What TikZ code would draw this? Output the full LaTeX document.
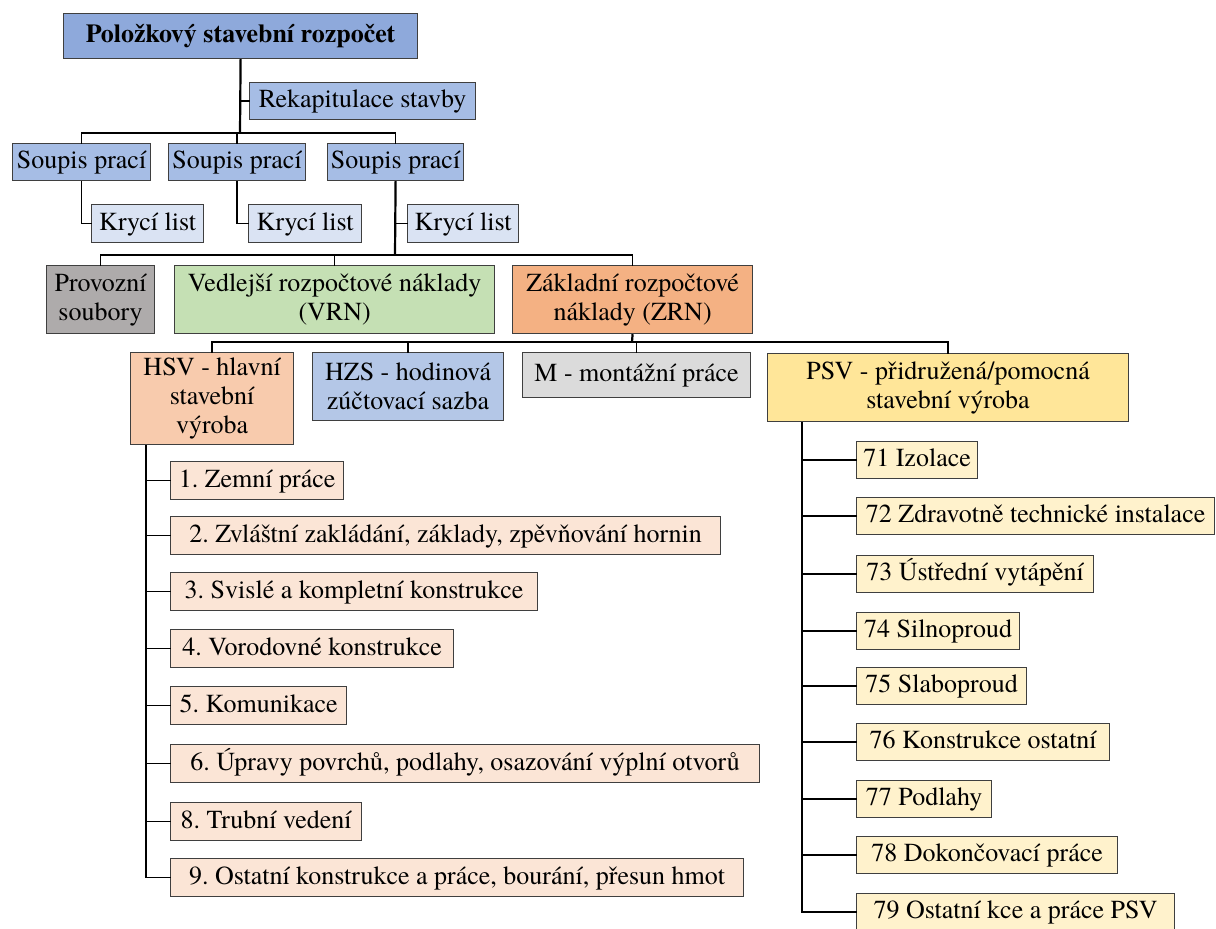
\documentclass[tikz,border=0pt]{standalone}
\usepackage{fontspec}
\setmainfont{TeX Gyre Termes}
\frenchspacing
\newcommand\dfont{\fontsize{26}{29}\selectfont}
\definecolor{boxline}{HTML}{3F3F3F}
\definecolor{cRoot}{HTML}{8EA9DB}
\definecolor{cBlue}{HTML}{A6BDE5}
\definecolor{cPale}{HTML}{DAE3F3}
\definecolor{cGray}{HTML}{AEABAB}
\definecolor{cGreen}{HTML}{C5E0B4}
\definecolor{cOrange}{HTML}{F4B183}
\definecolor{cPeach}{HTML}{F8CBAD}
\definecolor{cPeachLt}{HTML}{FBE5D6}
\definecolor{cHzs}{HTML}{B4C7E7}
\definecolor{cLtGray}{HTML}{DBDBDB}
\definecolor{cYellow}{HTML}{FFE699}
\definecolor{cYellowLt}{HTML}{FFF2CC}
\tikzset{
  onebox/.style={draw=boxline, line width=1.2pt, inner sep=0pt, anchor=north west,
    font=\dfont, text height=19pt, text depth=6pt},
  multibox/.style={draw=boxline, line width=1.2pt, inner sep=0pt, anchor=north west,
    font=\dfont, align=center},
  link/.style={line width=1.3pt, line cap=rect},
  trunk/.style={line width=2.2pt},
}
\begin{document}
\begin{tikzpicture}[x=1pt,y=-1pt]
\useasboundingbox (0,0) rectangle (1216,929);

% --- top levels
\node[onebox, fill=cRoot, font=\dfont\bfseries, minimum width=354pt, minimum height=45pt] (root) at (63,13) {Položkový stavební rozpočet};
\node[onebox, fill=cBlue, minimum width=226pt, minimum height=37pt] (rekap) at (249,82) {Rekapitulace stavby};

\node[onebox, fill=cBlue, minimum width=138pt, minimum height=37pt] (sp1) at (12,143) {Soupis prací};
\node[onebox, fill=cBlue, minimum width=137pt, minimum height=37pt] (sp2) at (168,143) {Soupis prací};
\node[onebox, fill=cBlue, minimum width=136pt, minimum height=37pt] (sp3) at (327,143) {Soupis prací};

\node[onebox, fill=cPale, minimum width=112pt, minimum height=38pt] (kl1) at (91,204) {Krycí list};
\node[onebox, fill=cPale, minimum width=113pt, minimum height=38pt] (kl2) at (248,204) {Krycí list};
\node[onebox, fill=cPale, minimum width=111pt, minimum height=38pt] (kl3) at (407,204) {Krycí list};

\node[multibox, fill=cGray, minimum width=108pt, minimum height=68pt] (prov) at (46,265) {Provozní\\soubory};
\node[multibox, fill=cGreen, minimum width=320pt, minimum height=68pt] (vrn) at (174,265) {Vedlejší rozpočtové náklady\\(VRN)};
\node[multibox, fill=cOrange, minimum width=240pt, minimum height=68pt] (zrn) at (512,265) {Základní rozpočtové\\náklady (ZRN)};

\node[multibox, fill=cPeach, minimum width=163pt, minimum height=92pt] (hsv) at (130,352) {HSV - hlavní\\stavební\\výroba};
\node[multibox, fill=cHzs, minimum width=191pt, minimum height=68pt] (hzs) at (312,352) {HZS - hodinová\\zúčtovací sazba};
\node[onebox, fill=cLtGray, minimum width=228pt, minimum height=45pt] (mont) at (522,352) {M - montážní práce};
\node[multibox, fill=cYellow, minimum width=361pt, minimum height=68pt] (psv) at (767,353) {PSV - přidružená/pomocná\\stavební výroba};

% --- HSV items
\tikzset{hitem/.style={onebox, fill=cPeachLt, minimum height=38pt}}
\node[hitem, minimum width=173pt] (h1) at (170,461) {1. Zemní práce};
\node[hitem, minimum width=550pt] (h2) at (170,516) {2. Zvláštní zakládání, základy, zpěvňování hornin};
\node[hitem, minimum width=367pt] (h3) at (170,572) {3. Svislé a kompletní konstrukce};
\node[hitem, minimum width=283pt] (h4) at (170,629) {4. Vorodovné konstrukce};
\node[hitem, minimum width=176pt] (h5) at (170,686) {5. Komunikace};
\node[hitem, minimum width=589pt] (h6) at (170,744) {6. Úpravy povrchů, podlahy, osazování výplní otvorů};
\node[hitem, minimum width=191pt] (h8) at (170,802) {8. Trubní vedení};
\node[hitem, minimum width=573pt] (h9) at (170,858) {9. Ostatní konstrukce a práce, bourání, přesun hmot};

% --- PSV items
\tikzset{pitem/.style={onebox, fill=cYellowLt, minimum height=37pt}}
\node[pitem, minimum width=121pt] (p71) at (856,441) {71 Izolace};
\node[pitem, minimum width=358pt] (p72) at (856,497) {72 Zdravotně technické instalace};
\node[pitem, minimum width=237pt] (p73) at (856,555) {73 Ústřední vytápění};
\node[pitem, minimum width=163pt] (p74) at (856,612) {74 Silnoproud};
\node[pitem, minimum width=170pt] (p75) at (856,667) {75 Slaboproud};
\node[pitem, minimum width=253pt] (p76) at (856,723) {76 Konstrukce ostatní};
\node[pitem, minimum width=135pt] (p77) at (856,780) {77 Podlahy};
\node[pitem, minimum width=261pt] (p78) at (856,836) {78 Dokončovací práce};
\node[pitem, minimum width=318pt] (p79) at (856,893) {79 Ostatní kce a práce PSV};

% --- junctions of the connector bars
\coordinate (j1) at (240,133);
\coordinate (j2) at (395,255);
\coordinate (j3) at (632,342);
\coordinate (hx) at (146,0);
\coordinate (px) at (802,0);

% --- connectors
\draw[trunk] (root.south) -- (j1);
\draw[link] (root.south |- rekap.west) -- (rekap.west);
\draw[link] (sp1.north) |- (j1) -| (sp3.north);
\draw[link] (sp2.north) -- (sp2.north |- j1);

\draw[link] (sp1.south) |- (kl1.west);
\draw[link] (sp2.south) |- (kl2.west);
\draw[trunk] (sp3.south) -- (j2);
\draw[link] (sp3.south |- kl3.west) -- (kl3.west);

\draw[link] (prov.north) |- (j2) -| (zrn.north);
\draw[link] (vrn.north) -- (vrn.north |- j2);

\draw[trunk] (zrn.south) -- (j3);
\draw[link] (hsv.north) |- (j3) -| (psv.north);
\draw[link] (hzs.north) -- (hzs.north |- j3);
\draw[link] (mont.north) -- (mont.north |- j3);

\draw[trunk] (hsv.south -| hx) -- (hx |- h9.west);
\foreach \n in {h1,h2,h3,h4,h5,h6,h8,h9}
  \draw[link] (hx |- \n.west) -- (\n.west);

\draw[trunk] (psv.south -| px) -- (px |- p79.west);
\foreach \n in {p71,p72,p73,p74,p75,p76,p77,p78,p79}
  \draw[link] (px |- \n.west) -- (\n.west);
\end{tikzpicture}
\end{document}
